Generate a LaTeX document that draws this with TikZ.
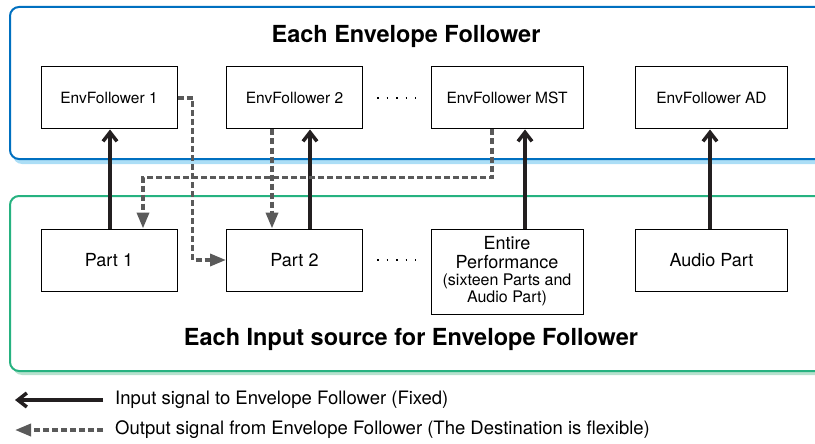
\documentclass[tikz,border=0pt]{standalone}
\usepackage{fontspec}
\setmainfont{TeX Gyre Heros}
\usetikzlibrary{arrows.meta}
\definecolor{frameblue}{RGB}{0,112,192}
\definecolor{shadeblue}{RGB}{172,222,246}
\definecolor{framegreen}{RGB}{38,178,128}
\definecolor{shadegreen}{RGB}{182,226,206}
\definecolor{linkblack}{RGB}{35,31,32}
\definecolor{linkgray}{RGB}{90,90,90}

\begin{document}
\begin{tikzpicture}[x=1pt,y=-1pt,
  env node/.style={draw,line width=1pt,minimum width=136pt,minimum height=62pt,
    inner sep=2pt,font=\fontsize{15.5}{18}\selectfont},
  part node/.style={env node,font=\fontsize{18}{19}\selectfont},
  wide/.style={minimum width=152pt},
  title/.style={font=\fontsize{23.5}{26}\selectfont\bfseries},
  legend/.style={anchor=west,inner sep=0pt,font=\fontsize{18.5}{20}\selectfont},
  fixed/.style={line width=3.5pt,draw=linkblack,-{Straight Barb[length=9pt,width=14pt]}},
  flex/.style={line width=3.5pt,draw=linkgray,dash pattern=on 6pt off 3pt,
    -{Triangle[length=16pt,width=12pt]}},
  sep dots/.style={line width=1.6pt,dash pattern=on 1.6pt off 7.9pt,
    shorten <=14pt,shorten >=15pt}]
  \useasboundingbox (0,0) rectangle (815,444);
  \clip (0,0) rectangle (815,444);

  % panels
  \fill[shadeblue,rounded corners=9pt] (13,12) rectangle (840,164);
  \filldraw[fill=white,draw=frameblue,line width=2pt,rounded corners=9pt]
    (10,7) rectangle (840,159);
  \fill[shadegreen,rounded corners=9pt] (13,201) rectangle (840,375);
  \filldraw[fill=white,draw=framegreen,line width=2pt,rounded corners=9pt]
    (10,196) rectangle (840,371);

  \node[title] (toptitle) at (406,36) {Each Envelope Follower};
  \node[title] (bottitle) at (411,339) {Each Input source for Envelope Follower};

  % followers
  \node[env node]      (env1)   at (109,98)   {EnvFollower 1};
  \node[env node]      (env2)   at (294.5,98) {EnvFollower 2};
  \node[env node,wide] (envmst) at (507,98)   {EnvFollower MST};
  \node[env node,wide] (envad)  at (711.5,98) {EnvFollower AD};

  % sources
  \node[part node]      (part1) at (109,260)   {Part 1};
  \node[part node]      (part2) at (294.5,260) {Part 2};
  \node[part node,wide,minimum height=85pt,align=center] (entire) at (507,271.5)
    {Entire\\Performance\\[-2pt]{\fontsize{16}{17}\selectfont(sixteen Parts and}\\[-2pt]{\fontsize{16}{17}\selectfont Audio Part)}};
  \node[part node,wide] (audio) at (711.5,260) {Audio Part};

  \path (env2) edge[sep dots] (envmst)
    (part2) edge[sep dots] (entire.west |- part2.east);

  \path
    ([xshift=1pt]part1.north)    edge[fixed] ([xshift=1pt]env1.south)
    ([xshift=15.5pt]part2.north) edge[fixed] ([xshift=15.5pt]env2.south)
    ([xshift=18pt]entire.north)  edge[fixed] ([xshift=18pt]envmst.south)
    ([xshift=-1.5pt]audio.north) edge[fixed] ([xshift=-1.5pt]envad.south);

  \draw[flex] (env1.east) -- ++(15,0) |- (part2.west);
  \path ([xshift=-22.5pt]env2.south) edge[flex] ([xshift=-22.5pt]part2.north);
  \draw[flex] ([xshift=-15pt]envmst.south) -- ++(0,48) -| ([xshift=34pt]part1.north);

  % legend
  \node[legend] (key1) at (115,400) {Input signal to Envelope Follower (Fixed)};
  \node[legend] (key2) at (115,430) {Output signal from Envelope Follower (The Destination is flexible)};
  \coordinate (key1end) at (15,400);
  \coordinate (key2end) at (15,430);
  \draw[fixed] ([xshift=-12pt]key1.west) -- (key1end);
  \draw[flex] ([xshift=-12pt]key2.west) -- (key2end);
\end{tikzpicture}
\end{document}
